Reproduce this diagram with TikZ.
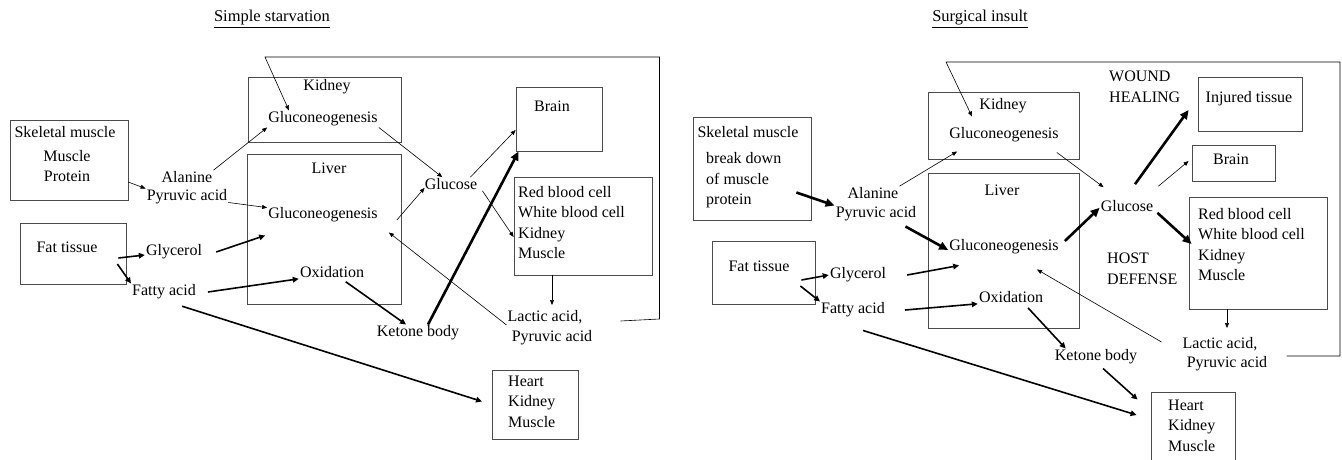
\documentclass[tikz,border=0pt]{standalone}
\usepackage{fontspec}
\setmainfont{Liberation Serif}
\usepackage{tikz}
\usetikzlibrary{arrows.meta}
\tikzset{
	boxnode/.style={rectangle, draw=black!70, line width=0.8pt, inner sep=0pt},
	txtnode/.style={inner sep=1pt, font=\fontsize{16}{20.5}\selectfont},
	titlenode/.style={inner sep=1pt, font=\fontsize{16.5}{19}\selectfont},
	thinarrow/.style={-{Triangle[length=5pt,width=4pt]}, line width=0.6pt},
	midarrow/.style={-{Triangle[length=6pt,width=5.5pt]}, line width=1.6pt},
	thickarrow/.style={-{Triangle[length=9pt,width=8pt]}, line width=2.6pt}
}

\begin{document}
\begin{tikzpicture}[x=1pt, y=-1pt]
	\useasboundingbox (0,0) rectangle (1342,460);
	% simple starvation
	\node[titlenode] at (272,19) (titleL) {\underline{Simple starvation}};
	\node[boxnode, minimum width=153pt, minimum height=65pt] at (324.5,109.5) (kidBoxL) {};
	\node[txtnode] at (327,87) (kidL) {Kidney};
	\node[txtnode] at (323,119) (kgluL) {Gluconeogenesis};
	\node[boxnode, minimum width=118pt, minimum height=80pt] at (69,160) (skelBoxL) {};
	\node[txtnode] at (65,132) (skelL) {Skeletal muscle};
	\node[txtnode, align=center] at (67,166) (protL) {Muscle\\Protein};
	\node[boxnode, minimum width=106pt, minimum height=61pt] at (73,253.5) (fatBoxL) {};
	\node[txtnode] at (67,247) (fatTxtL) {Fat tissue};
	\node[boxnode, minimum width=154pt, minimum height=150pt] at (324,229) (livBoxL) {};
	\node[txtnode] at (329,168) (livL) {Liver};
	\node[txtnode] at (323,215) (lgluL) {Gluconeogenesis};
	\node[txtnode] at (332,272) (oxiL) {Oxidation};
	\node[txtnode] at (187,177) (alaL) {Alanine};
	\node[txtnode] at (187,197) (pyrL) {Pyruvic acid};
	\node[txtnode] at (174,252) (glyL) {Glycerol};
	\node[txtnode] at (164,292) (fatL) {Fatty acid};
	\node[txtnode] at (451,184) (glcL) {Glucose};
	\node[boxnode, minimum width=86pt, minimum height=64pt] at (559,119) (brainBoxL) {};
	\node[txtnode] at (552,106) (brainL) {Brain};
	\node[boxnode, minimum width=138pt, minimum height=98pt] at (583,226) (rbcBoxL) {};
	\node[txtnode, align=left, anchor=west] at (517,222.5) (rbcL) {Red blood cell\\White blood cell\\Kidney\\Muscle};
	\node[txtnode] at (545,317) (lacL) {Lactic acid,};
	\node[txtnode] at (552,338) (pyr2L) {Pyruvic acid};
	\node[txtnode] at (418,333) (ketL) {Ketone body};
	\node[boxnode, minimum width=86pt, minimum height=69pt] at (535,404.5) (heartBoxL) {};
	\node[txtnode, align=left, anchor=west] at (507,401.5) (heartL) {Heart\\Kidney\\Muscle};

	\draw[thinarrow] (skelBoxL) -- (pyrL.north west);
	\draw[thinarrow] (alaL.north east) -- (kgluL.south west);
	\draw[thinarrow] (pyrL) -- (lgluL);
	\draw[thinarrow] (kgluL.south east) -- (glcL);
	\draw[thinarrow] ([xshift=18pt,yshift=-5pt]lgluL.east) -- ([xshift=1pt,yshift=3pt]glcL.south west);
	\draw[thinarrow] ([xshift=-8pt]glcL.north east) -- ([yshift=-11pt]brainBoxL.west);
	\draw[thinarrow] ([xshift=4pt]glcL.south east) -- ([yshift=-11pt]rbcBoxL.west);
	\draw[midarrow] ([xshift=-8pt,yshift=-4.5pt]fatBoxL.east) -- ([yshift=-3pt]glyL.west);
	\draw[midarrow] ([xshift=-9pt,yshift=-10.5pt]fatBoxL.east) -- (fatL.north west);
	\draw[midarrow] ([xshift=13pt]glyL.east) -- ([xshift=-2pt,yshift=-12pt]lgluL.south west);
	\draw[midarrow] ([xshift=11pt]fatL.east) -- (oxiL.south west);
	\draw[midarrow, shorten <=5pt] (oxiL) -- (ketL);
	\draw[thickarrow] ([xshift=10pt]ketL.north) -- ([xshift=3pt]brainBoxL.south west);
	\draw[thinarrow] (lacL.south west) -- ([xshift=10pt,yshift=-9pt]lgluL.south east);
	\draw[thinarrow, shorten >=4pt] (rbcBoxL.south -| pyr2L) -- (lacL.north -| pyr2L);
	\draw[midarrow, shorten <=19pt, shorten >=10pt] (fatL.south) -- (heartBoxL.west);
	\draw[thinarrow] ([xshift=37pt,yshift=-4pt]lacL.east) -- ++(39,-2) |- (265,57) -- (kgluL.166);

	% surgical insult
	\node[titlenode] at (980,19) (titleR) {\underline{Surgical insult}};
	\node[boxnode, minimum width=151pt, minimum height=67pt] at (1003.5,125.5) (kidBoxR) {};
	\node[txtnode] at (1003,106) (kidR) {Kidney};
	\node[txtnode] at (1004,135) (kgluR) {Gluconeogenesis};
	\node[boxnode, minimum width=118pt, minimum height=103pt] at (752,168.5) (skelBoxR) {};
	\node[txtnode] at (748,132) (skelR) {Skeletal muscle};
	\node[txtnode, align=left, anchor=west] at (705,180.5) (breakR) {break down\\of muscle\\protein};
	\node[boxnode, minimum width=103pt, minimum height=63pt] at (763.5,272.5) (fatBoxR) {};
	\node[txtnode] at (759,266) (fatTxtR) {Fat tissue};
	\node[boxnode, minimum width=151pt, minimum height=155pt] at (1003.5,250.5) (livBoxR) {};
	\node[txtnode] at (1002,190) (livR) {Liver};
	\node[txtnode] at (1004,247) (lgluR) {Gluconeogenesis};
	\node[txtnode] at (1011,297) (oxiR) {Oxidation};
	\node[txtnode] at (873,193) (alaR) {Alanine};
	\node[txtnode] at (876,214) (pyrR) {Pyruvic acid};
	\node[txtnode] at (858,275) (glyR) {Glycerol};
	\node[txtnode] at (853,310) (fatR) {Fatty acid};
	\node[txtnode] at (1127,206) (glcR) {Glucose};
	\node[txtnode, align=left, anchor=west] at (1108,87) (woundR) {WOUND\\HEALING};
	\node[txtnode, align=left, anchor=west] at (1106,269) (hostR) {HOST\\DEFENSE};
	\node[boxnode, minimum width=104pt, minimum height=54pt] at (1250,104) (injBoxR) {};
	\node[txtnode] at (1249,99) (injR) {Injured tissue};
	\node[boxnode, minimum width=83pt, minimum height=36pt] at (1233.5,163) (brainBoxR) {};
	\node[txtnode] at (1231,159) (brainR) {Brain};
	\node[boxnode, minimum width=138pt, minimum height=112pt] at (1258,253) (rbcBoxR) {};
	\node[txtnode, align=left, anchor=west] at (1197,244.5) (rbcR) {Red blood cell\\White blood cell\\Kidney\\Muscle};
	\node[txtnode] at (1220,344) (lacR) {Lactic acid,};
	\node[txtnode] at (1227,364) (pyr2R) {Pyruvic acid};
	\node[txtnode] at (1096,357) (ketR) {Ketone body};
	\node[boxnode, minimum width=84pt, minimum height=76pt] at (1193,430) (heartBoxR) {};
	\node[txtnode, align=left, anchor=west] at (1167,425.5) (heartR) {Heart\\Kidney\\Muscle};

	\draw[thickarrow] ([xshift=-15pt,yshift=-24pt]skelBoxR.east) -- (pyrR.north west);
	\draw[thinarrow] (alaR.north east) -- ([xshift=9pt,yshift=-8pt]kgluR.south west);
	\draw[thickarrow] ([xshift=-12pt,yshift=-4pt]pyrR.south east) -- ([yshift=-3pt]lgluR.west);
	\draw[midarrow] ([xshift=-14pt,yshift=-7.5pt]fatBoxR.east) -- (glyR.west);
	\draw[midarrow] ([xshift=-15pt,yshift=-13.5pt]fatBoxR.east) -- (fatR.north west);
	\draw[midarrow] ([xshift=20pt]glyR.east) -- ([xshift=11pt,yshift=-10pt]lgluR.south west);
	\draw[midarrow] ([xshift=19pt]fatR.east) -- (oxiR.south west);
	\draw[midarrow] ([xshift=17pt,yshift=-4pt]oxiR.south) -- ([xshift=12pt]ketR.north west);
	\draw[midarrow] ([xshift=7pt,yshift=-3pt]ketR.south) -- ([xshift=-13pt,yshift=-8pt]heartBoxR.north west);
	\draw[midarrow] ([xshift=10pt,yshift=-12pt]fatR.south) -- ([xshift=-14pt,yshift=15pt]heartBoxR.west);
	\draw[thinarrow] ([xshift=-3pt,yshift=-9pt]kgluR.south east) -- ([xshift=4pt,yshift=12pt]glcR.north west);
	\draw[thickarrow] ([xshift=5pt,yshift=6pt]lgluR.east) -- ([yshift=5pt]glcR.south west);
	\draw[thickarrow] ([xshift=8pt,yshift=15pt]glcR.north) -- ([xshift=-9pt,yshift=-6pt]injBoxR.west);
	\draw[thinarrow] ([xshift=4pt,yshift=13pt]glcR.north east) -- ([xshift=-3pt,yshift=2pt]brainBoxR.west);
	\draw[thickarrow] ([xshift=3pt]glcR.south east) -- ([xshift=3pt,yshift=9pt]rbcBoxR.west);
	\draw[thinarrow, shorten >=8pt] (rbcBoxR.south -| pyr2R) -- (lacR.north -| pyr2R);
	\draw[thinarrow] ([xshift=-20pt,yshift=2pt]lacR.west) -- ([xshift=33pt,yshift=-14pt]lgluR.south);
	\draw[thinarrow] ([xshift=28pt,yshift=-12pt]lacR.east) -- (1340,356) -- (1340,62) -- (946,62) -- ([xshift=-32pt,yshift=10pt]kgluR.north);
\end{tikzpicture}
\end{document}
